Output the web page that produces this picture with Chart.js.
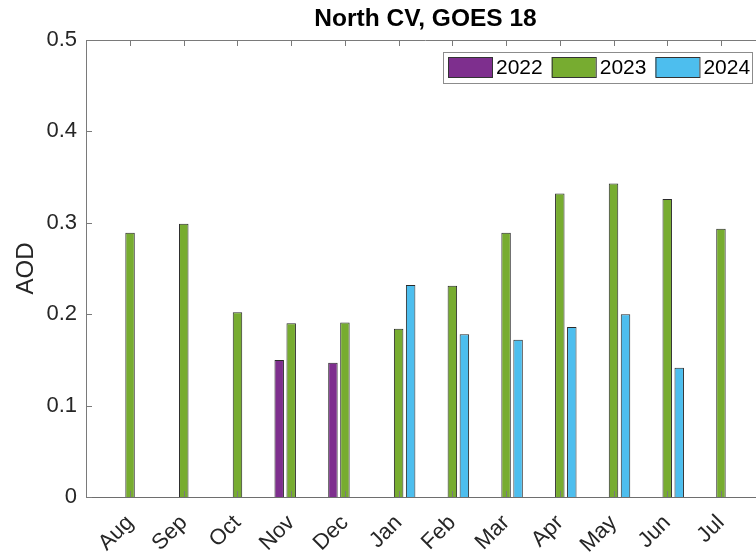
<!DOCTYPE html>
<html>
<head>
<meta charset="utf-8">
<script src="https://cdn.jsdelivr.net/npm/chart.js@4"></script>
<style>
  html, body { margin: 0; padding: 0; overflow: hidden; background: #fff; }
  #wrap { width: 780px; height: 556px; }
</style>
</head>
<body>
<div id="wrap"><canvas id="barCanvas" width="780" height="556"></canvas></div>
<script>
const months = ["Aug", "Sep", "Oct", "Nov", "Dec", "Jan", "Feb", "Mar", "Apr", "May", "Jun", "Jul"];
const years = ["2022", "2023", "2024"];
const aod2022 = [null, null, null, 0.150, 0.147, null, null, null, null, null, null, null];
const aod2023 = [0.289, 0.299, 0.202, 0.190, 0.191, 0.184, 0.231, 0.289, 0.332, 0.343, 0.326, 0.2935];
const aod2024 = [null, null, null, null, null, 0.232, 0.178, 0.172, 0.186, 0.200, 0.1415, null];
const yTicks = [0, 0.1, 0.2, 0.3, 0.4, 0.5];

const colors = ["#7E2F8E", "#77AC30", "#4DBEEE"];
const font = "'Liberation Sans', Arial, sans-serif";

function toPoints(vals) {
    return vals.map((v, i) => ({ x: i, y: v }));
}

// matlab style box: top line, inward ticks, legend inside the axes
const boxPlugin = {
    id: "boxPlugin",
    afterDraw(chart) {
        const ctx = chart.ctx;
        const a = chart.chartArea;
        const xs = chart.scales.x;
        const ys = chart.scales.y;
        ctx.save();
        ctx.strokeStyle = "#7a7a7a";
        ctx.lineWidth = 1;
        ctx.beginPath();
        ctx.moveTo(a.left, a.top + 0.5);
        ctx.lineTo(a.right, a.top + 0.5);
        ctx.moveTo(a.right - 0.5, a.top);
        ctx.lineTo(a.right - 0.5, a.bottom);
        months.forEach((m, i) => {
            const px = Math.round(xs.getPixelForValue(i)) + 0.5;
            ctx.moveTo(px, a.top);
            ctx.lineTo(px, a.top + 6);
            ctx.moveTo(px, a.bottom);
            ctx.lineTo(px, a.bottom - 6);
        });
        yTicks.forEach(t => {
            const py = Math.round(ys.getPixelForValue(t)) + 0.5;
            ctx.moveTo(a.left, py);
            ctx.lineTo(a.left + 6, py);
        });
        ctx.stroke();

        // legend
        const lx = 443, ly = 52, lw = 309, lh = 31;
        ctx.fillStyle = "#fff";
        ctx.fillRect(lx, ly, lw, lh);
        ctx.strokeStyle = "#8c8c8c";
        ctx.strokeRect(lx + 0.5, ly + 0.5, lw, lh);
        ctx.font = "21px " + font;
        ctx.textBaseline = "middle";
        ctx.textAlign = "left";
        let x = lx + 5;
        chart.data.datasets.forEach(ds => {
            ctx.fillStyle = ds.backgroundColor;
            ctx.fillRect(x, ly + 5, 44, 20);
            ctx.strokeStyle = "#333";
            ctx.strokeRect(x + 0.5, ly + 5.5, 44, 20);
            ctx.fillStyle = "#000";
            ctx.fillText(ds.label, x + 48, ly + 16.5);
            x += 48 + ctx.measureText(ds.label).width + 9;
        });
        ctx.restore();
    }
};

const barCanvas = document.getElementById("barCanvas");

const barChart = new Chart(barCanvas, {
    type: "bar",
    data: {
        datasets: [
            { label: years[0], data: toPoints(aod2022), backgroundColor: colors[0] },
            { label: years[1], data: toPoints(aod2023), backgroundColor: colors[1] },
            { label: years[2], data: toPoints(aod2024), backgroundColor: colors[2] }
        ]
    },
    options: {
        responsive: false,
        animation: false,
        layout: { padding: { left: 0, right: 15, top: 0, bottom: 0 } },
        datasets: {
            bar: {
                borderColor: "#2a2a2a",
                borderWidth: 1,
                categoryPercentage: 0.67,
                barPercentage: 0.79
            }
        },
        plugins: {
            legend: { display: false },
            tooltip: { enabled: false },
            title: {
                display: true,
                text: "North CV, GOES 18",
                fullSize: false,
                color: "#000",
                font: { family: font, size: 24.5, weight: "bold", lineHeight: 1.2 },
                padding: { top: 5, bottom: 5.6 }
            }
        },
        scales: {
            x: {
                type: "linear",
                offset: false,
                min: -0.82,
                max: 11.82,
                grid: { display: false, drawTicks: false },
                border: { display: true, color: "#6e6e6e" },
                afterFit: s => { s.height = 59; },
                afterBuildTicks: s => { s.ticks = months.map((m, i) => ({ value: i })); },
                ticks: {
                    autoSkip: false,
                    minRotation: 45,
                    maxRotation: 45,
                    padding: 13,
                    color: "#262626",
                    font: { family: font, size: 22 },
                    callback: v => months[v]
                }
            },
            y: {
                min: 0,
                max: 0.5,
                grid: { display: false, drawTicks: false },
                border: { display: true, color: "#7a7a7a" },
                afterFit: s => { s.width = 86; },
                afterBuildTicks: s => { s.ticks = yTicks.map(v => ({ value: v })); },
                ticks: {
                    padding: 9,
                    color: "#262626",
                    font: { family: font, size: 22 },
                    callback: v => String(Math.round(v * 10) / 10)
                },
                title: {
                    display: true,
                    text: "AOD",
                    color: "#262626",
                    font: { family: font, size: 24, lineHeight: 1.2 },
                    padding: { top: 12, bottom: 0 }
                }
            }
        }
    },
    plugins: [boxPlugin]
});
</script>
</body>
</html>
